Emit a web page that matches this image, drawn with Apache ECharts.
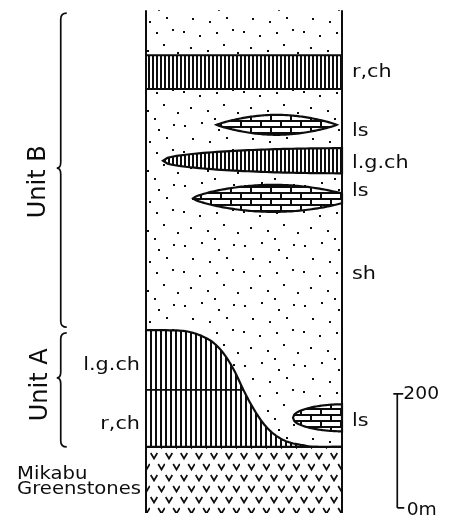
<!DOCTYPE html>
<html>
<head>
<meta charset="utf-8">
<script src="https://cdn.jsdelivr.net/npm/echarts@6/dist/echarts.min.js"></script>
<style>
  html, body { margin: 0; background: #fff; }
  #main { width: 449px; height: 518px; }
</style>
</head>
<body>
<div id="main"></div>
<script>
// heights are metres above the base of the drawn column, x is % of column width

var columnTop = 882;
var greenstoneTop = 116;
var redChertBand = [744, 803];

// Unit A chert body, its upper surface
var chertX = [0, 17, 24, 30, 35, 40, 45, 49.7, 54, 59, 64, 69, 74, 80, 86, 100];
var chertY = [321, 320, 316, 308, 297, 278, 250, 216, 188, 161, 142, 130, 123, 119, 116, 116];
var chertSplit = 216; // l.g.ch above, r,ch below

// lenses (right end > 100 means cut by the column edge)
var lensLith = ['ls', 'lgch', 'ls', 'ls'];
var lensLeft = [36, 8.7, 24, 75];
var lensRight = [97.3, 191, 106, 125];
var lensMid = [681, 618, 552, 167];
var lensHalf = [17.5, 22, 23.7, 23.7];

var rightLabels = ['r,ch', 'ls', 'l.g.ch', 'ls', 'sh', 'ls'];
var rightLabelY = [773, 669, 613, 564, 418, 160];
var leftLabels = ['l.g.ch', 'r,ch'];
var leftLabelY = [258, 156];
var baseLabels = ['Mikabu', 'Greenstones'];
var baseLabelY = [67, 41];

var unitNames = ['Unit B', 'Unit A'];
var unitTop = [877, 316];
var unitBottom = [326, 116];
var unitTip = [605, 237];
var unitLabelY = [581, 225];

var scaleTicks = [9, 209];
var scaleLabels = ['0m', '200'];
var scaleLabelY = [4, 208];

// layout / style
var ink = '#0d0d0d';
var lensPow = [0.85, 0.45, 0.7, 0.45];
var braceX = -43.5;
var unitLabelX = [-54.6, -53.6];
var rightLabelX = 105.1;
var leftLabelX = -3.1;
var baseLabelX = -65.8;
var scaleX = 128.2;
var labelFont = '17px "DejaVu Sans"';

function tile(w, h, draw) {
  var c = document.createElement('canvas');
  c.width = w;
  c.height = h;
  var ctx = c.getContext('2d');
  ctx.fillStyle = '#fff';
  ctx.fillRect(0, 0, w, h);
  ctx.fillStyle = ink;
  ctx.strokeStyle = ink;
  draw(ctx);
  return { image: c, repeat: 'repeat' };
}

var dots = tile(60, 60, function (ctx) {
  [[4, 5], [21, 2], [38, 9], [53, 4], [12, 18], [29, 21], [46, 17], [3, 31],
   [19, 35], [36, 32], [52, 29], [10, 47], [27, 50], [43, 44], [57, 52], [34, 58]].forEach(function (p) {
    ctx.fillRect(p[0], p[1], 2, 2);
  });
});
var stripes4 = tile(4, 4, function (ctx) { ctx.fillRect(0, 0, 2, 4); });
var stripes5 = tile(5, 5, function (ctx) { ctx.fillRect(0, 0, 2, 5); });
var bricks = tile(20, 12, function (ctx) {
  ctx.fillRect(0, 0, 20, 2);
  ctx.fillRect(0, 6, 20, 2);
  ctx.fillRect(0, 0, 2, 6);
  ctx.fillRect(10, 6, 2, 6);
});
var vees = tile(15, 22, function (ctx) {
  ctx.lineWidth = 1.7;
  [[4, 13], [11.5, 2]].forEach(function (v) {
    ctx.beginPath();
    ctx.moveTo(v[0] - 3.3, v[1]);
    ctx.lineTo(v[0], v[1] + 5.5);
    ctx.lineTo(v[0] + 3.3, v[1]);
    ctx.stroke();
  });
});
var lithFill = { ls: bricks, lgch: stripes4 };

function rectSeries(y0, y1, fill, stroke, z) {
  return {
    type: 'custom',
    z: z,
    data: [[0, y0, 100, y1]],
    renderItem: function (params, api) {
      var a = api.coord([api.value(0), api.value(3)]);
      var b = api.coord([api.value(2), api.value(1)]);
      return {
        type: 'rect',
        shape: { x: a[0], y: a[1], width: b[0] - a[0], height: b[1] - a[1] },
        style: { fill: fill, stroke: stroke ? ink : null, lineWidth: 2 }
      };
    },
    silent: true
  };
}

function lineSeries(points, width) {
  return {
    type: 'line',
    z: 6,
    data: points,
    symbol: 'none',
    lineStyle: { color: ink, width: width || 2 },
    silent: true
  };
}

function textSeries(texts, xs, ys, opt) {
  return {
    type: 'custom',
    z: 8,
    clip: false,
    silent: true,
    data: texts.map(function (t, i) { return [xs[i] !== undefined ? xs[i] : xs, ys[i]]; }),
    renderItem: function (params, api) {
      var p = api.coord([api.value(0), api.value(1)]);
      return {
        type: 'text',
        x: p[0],
        y: p[1],
        rotation: opt.rotation || 0,
        scaleX: opt.scaleX || 1,
        style: {
          text: texts[params.dataIndex],
          fill: ink,
          font: opt.font || labelFont,
          align: opt.align || 'left',
          verticalAlign: 'middle'
        }
      };
    }
  };
}

// Catmull-Rom through the picked points, in pixels
function spline(pts) {
  var out = [];
  for (var i = 0; i < pts.length - 1; i++) {
    var p0 = pts[Math.max(i - 1, 0)], p1 = pts[i], p2 = pts[i + 1], p3 = pts[Math.min(i + 2, pts.length - 1)];
    for (var s = 0; s < 10; s++) {
      var t = s / 10, t2 = t * t, t3 = t2 * t;
      out.push([0, 1].map(function (k) {
        return 0.5 * (2 * p1[k] + (-p0[k] + p2[k]) * t +
          (2 * p0[k] - 5 * p1[k] + 4 * p2[k] - p3[k]) * t2 +
          (-p0[k] + 3 * p1[k] - 3 * p2[k] + p3[k]) * t3);
      }));
    }
  }
  out.push(pts[pts.length - 1]);
  return out;
}

var chart = echarts.init(document.getElementById('main'));

var option = {
  animation: false,
  grid: { left: 146, right: 107, top: 0, bottom: 5 },
  xAxis: { type: 'value', min: 0, max: 100, show: false },
  yAxis: { type: 'value', min: 0, max: 900, show: false },
  series: [
    // stippled shale of the whole column
    rectSeries(greenstoneTop, columnTop, dots, false, 1),
    // red chert band of Unit B
    rectSeries(redChertBand[0], redChertBand[1], stripes4, true, 3),
    // Unit A chert body
    {
      type: 'custom',
      z: 2,
      silent: true,
      data: chertX.map(function (x, i) { return [x, chertY[i]]; }),
      renderItem: function (params, api) {
        if (params.dataIndex > 0) return null;
        var pts = spline(chertX.map(function (x, i) { return api.coord([x, chertY[i]]); }));
        var area = pts.concat([api.coord([100, greenstoneTop]), api.coord([0, greenstoneTop])]);
        return {
          type: 'group',
          children: [
            { type: 'polygon', shape: { points: area }, style: { fill: stripes5 } },
            { type: 'polyline', shape: { points: pts }, style: { stroke: ink, lineWidth: 2.2, fill: null } }
          ]
        };
      }
    },
    lineSeries([[0, chertSplit], [chertX[chertY.indexOf(chertSplit)], chertSplit]], 1.8),
    // lenses
    {
      type: 'custom',
      z: 4,
      silent: true,
      data: lensMid.map(function (m, i) { return [lensLeft[i], lensRight[i], m, lensHalf[i]]; }),
      renderItem: function (params, api) {
        var i = params.dataIndex;
        var x0 = api.value(0), x1 = api.value(1), mid = api.value(2), half = api.value(3);
        var top = [], bot = [];
        var n = 80;
        for (var k = 0; k <= n; k++) {
          var x = Math.min(x0 + (x1 - x0) * k / n, 100);
          var f = Math.pow(Math.max(Math.sin(Math.PI * (x - x0) / (x1 - x0)), 0), lensPow[i]);
          top.push(api.coord([x, mid + half * f]));
          bot.unshift(api.coord([x, mid - half * f]));
          if (x >= 100) break;
        }
        return {
          type: 'polygon',
          shape: { points: top.concat(bot) },
          style: { fill: lithFill[lensLith[i]], stroke: ink, lineWidth: 2.2 }
        };
      }
    },
    // Mikabu greenstones
    rectSeries(0, greenstoneTop, vees, false, 5),
    lineSeries([[0, greenstoneTop], [100, greenstoneTop]], 2.4),
    // column sides
    lineSeries([[0, 0], [0, columnTop]], 2),
    lineSeries([[100, 0], [100, columnTop]], 2),
    // unit braces
    {
      type: 'custom',
      z: 7,
      clip: false,
      silent: true,
      data: unitTop.map(function (t, i) { return [t, unitBottom[i], unitTip[i]]; }),
      renderItem: function (params, api) {
        var pT = api.coord([braceX, api.value(0)]);
        var pB = api.coord([braceX, api.value(1)]);
        var pM = api.coord([braceX, api.value(2)]);
        var X = pT[0], h = 6, d = 4;
        var path = 'M' + (X + h) + ' ' + pT[1] +
          ' Q' + X + ' ' + pT[1] + ' ' + X + ' ' + (pT[1] + h) +
          ' L' + X + ' ' + (pM[1] - h) +
          ' Q' + X + ' ' + pM[1] + ' ' + (X - d) + ' ' + pM[1] +
          ' Q' + X + ' ' + pM[1] + ' ' + X + ' ' + (pM[1] + h) +
          ' L' + X + ' ' + (pB[1] - h) +
          ' Q' + X + ' ' + pB[1] + ' ' + (X + h) + ' ' + pB[1];
        return {
          type: 'path',
          shape: { pathData: path },
          style: { fill: null, stroke: ink, lineWidth: 1.7 }
        };
      }
    },
    // scale bar
    {
      type: 'custom',
      z: 7,
      clip: false,
      silent: true,
      data: [[scaleTicks[0], scaleTicks[1]]],
      renderItem: function (params, api) {
        var lo = api.coord([scaleX, api.value(0)]);
        var hi = api.coord([scaleX, api.value(1)]);
        var s = { stroke: ink, lineWidth: 1.7 };
        return {
          type: 'group',
          children: [
            { type: 'line', shape: { x1: lo[0], y1: lo[1], x2: hi[0], y2: hi[1] }, style: s },
            { type: 'line', shape: { x1: hi[0] - 4, y1: hi[1], x2: hi[0] + 6, y2: hi[1] }, style: s },
            { type: 'line', shape: { x1: lo[0], y1: lo[1], x2: lo[0] + 7, y2: lo[1] }, style: s }
          ]
        };
      }
    },
    textSeries(scaleLabels, [133, 131.3], scaleLabelY, { scaleX: 1.1 }),
    // labels
    textSeries(rightLabels, rightLabelX, rightLabelY, { scaleX: 1.22 }),
    textSeries(leftLabels, leftLabelX, leftLabelY, { scaleX: 1.22, align: 'right' }),
    textSeries(baseLabels, baseLabelX, baseLabelY, { font: '18px "DejaVu Sans"', scaleX: 1.09 }),
    textSeries(unitNames, unitLabelX, unitLabelY, { font: '24px "DejaVu Sans"', rotation: Math.PI / 2, align: 'center' })
  ]
};

chart.setOption(option);
</script>
</body>
</html>
